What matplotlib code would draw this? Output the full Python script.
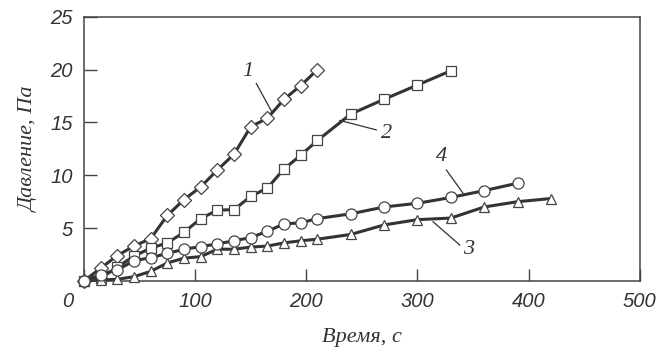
import numpy as np
import matplotlib
matplotlib.use("Agg")
import matplotlib.pyplot as plt
from matplotlib.transforms import ScaledTranslation

# data
t1 = [0, 15, 30, 45, 60, 75, 90, 105, 120, 135, 150, 165, 180, 195, 210]
p1 = [0, 1.2, 2.4, 3.3, 4.0, 6.2, 7.7, 8.9, 10.5, 12.0, 14.6, 15.4, 17.2, 18.5, 20.0]

t2 = [0, 15, 30, 45, 60, 75, 90, 105, 120, 135, 150, 165, 180, 195, 210, 240, 270, 300, 330]
p2 = [0, 0.25, 1.3, 2.35, 3.1, 3.6, 4.6, 5.9, 6.7, 6.75, 8.0, 8.8, 10.6, 11.9, 13.3,
      15.8, 17.2, 18.55, 19.9]

t3 = [0, 15, 30, 45, 60, 75, 90, 105, 120, 135, 150, 165, 180, 195, 210, 240, 270, 300,
      330, 360, 390, 420]
p3 = [0, 0.1, 0.15, 0.4, 0.9, 1.7, 2.15, 2.3, 3.0, 3.0, 3.2, 3.3, 3.6, 3.8, 3.95, 4.4,
      5.3, 5.8, 5.95, 7.0, 7.5, 7.8]

t4 = [0, 15, 30, 45, 60, 75, 90, 105, 120, 135, 150, 165, 180, 195, 210, 240, 270, 300,
      330, 360, 390]
p4 = [0, 0.6, 1.05, 1.9, 2.2, 2.6, 3.0, 3.25, 3.5, 3.8, 4.1, 4.7, 5.4, 5.5, 5.9, 6.35,
      7.0, 7.35, 7.9, 8.55, 9.25]

xticks = [0, 100, 200, 300, 400, 500]
yticks = [5, 10, 15, 20, 25]

# curve labels: (text, label pos, leader start, leader end)
labels = [
    ("1", (147, 19.8), (155, 18.7), (169, 16.0)),
    ("2", (272, 14.0), (263, 14.3), (230, 15.2)),
    ("4", (322, 11.8), (326, 10.5), (341, 8.3)),
    ("3", (346, 2.95), (338, 3.4), (314, 5.6)),
]

line_col = "#333333"
serif = ["Liberation Serif", "DejaVu Serif"]
sans = ["Liberation Sans", "DejaVu Sans"]

fig = plt.figure(figsize=(6.61, 3.52), dpi=100)
ax = fig.add_axes([0.127, 0.202, 0.841, 0.75])

series = [(t1, p1, "D", 7), (t2, p2, "s", 7), (t3, p3, "^", 7), (t4, p4, "o", 8)]
for t, p, m, ms in series:
    ax.plot(t, p, color=line_col, lw=2.2, marker=m, ms=ms, mfc="white",
            mec="#444444", mew=0.9, zorder=3, clip_on=False)

for txt, pos, a, b in labels:
    ax.plot([a[0], b[0]], [a[1], b[1]], color="#333333", lw=0.9)
    ax.text(pos[0], pos[1], txt, family=serif, style="italic", fontsize=16,
            color="#333333", ha="center", va="center")

ax.set_xlim(0, 500)
ax.set_ylim(0, 25)
ax.set_xticks(xticks)
ax.set_yticks(yticks)
ax.set_xticklabels([str(v) for v in xticks])
ax.set_yticklabels([str(v) for v in yticks])
ax.tick_params(direction="in", length=9, width=1.0, color="#444444",
               labelsize=14.5, labelcolor="#333333", pad=8)
for lab in ax.get_xticklabels() + ax.get_yticklabels():
    lab.set_family(sans)
    lab.set_style("italic")
# the zero sits left of the corner
zero = ax.get_xticklabels()[0]
zero.set_transform(zero.get_transform() + ScaledTranslation(-0.16, 0, fig.dpi_scale_trans))

for s in ax.spines.values():
    s.set_color("#444444")
    s.set_linewidth(1.1)

ax.set_xlabel("Время, с", family=serif, style="italic", fontsize=16,
              color="#333333", labelpad=12)
ax.set_ylabel("Давление, Па", family=serif, style="italic", fontsize=16,
              color="#333333", labelpad=8)

fig.savefig("out.png", dpi=100)
